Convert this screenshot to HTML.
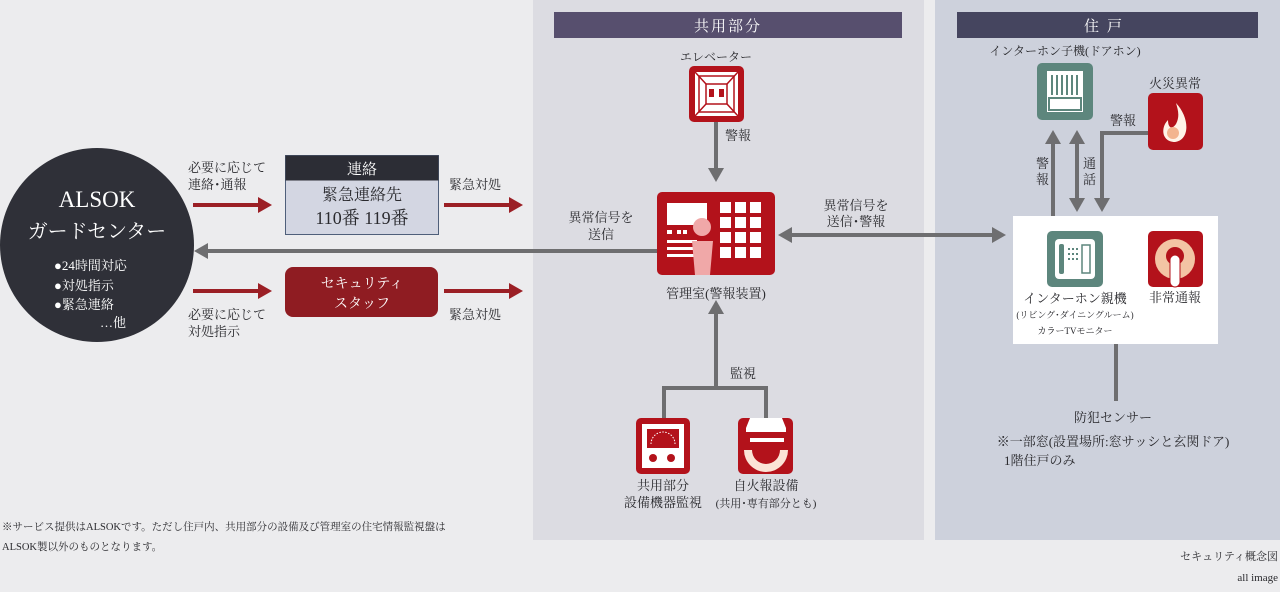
<!DOCTYPE html>
<html><head><meta charset="utf-8">
<style>
html,body{margin:0;padding:0;}
body{width:1280px;height:587px;overflow:hidden;background:#ececee;}
svg text{font-family:"Liberation Serif","Noto Serif CJK SC","Noto Sans CJK JP",serif;fill:#2a2a2e;}
</style></head>
<body>
<svg width="1280" height="587" viewBox="0 0 1280 587" xmlns="http://www.w3.org/2000/svg">
<rect width="1280" height="587" fill="#ececee"/>
<!-- panels -->
<rect x="533" y="0" width="391" height="540" fill="#dcdce2"/>
<rect x="935" y="0" width="345" height="540" fill="#cdd1dc"/>
<rect x="554" y="12" width="348" height="26" fill="#574f6e"/>
<text x="728" y="31" font-size="15" text-anchor="middle" style="fill:#fff" letter-spacing="2">共用部分</text>
<rect x="957" y="12" width="301" height="26" fill="#45455f"/>
<text x="1107" y="31" font-size="15" text-anchor="middle" style="fill:#fff" letter-spacing="8">住戸</text>

<!-- ALSOK circle -->
<circle cx="97" cy="245" r="97" fill="#2f3038"/>
<text x="97" y="207" font-size="23" text-anchor="middle" style="fill:#fff">ALSOK</text>
<text x="97" y="238" font-size="20" text-anchor="middle" style="fill:#fff">ガードセンター</text>
<g font-size="13">
<text x="54" y="270" style="fill:#fff">●24時間対応</text>
<text x="54" y="290" style="fill:#fff">●対処指示</text>
<text x="54" y="309" style="fill:#fff">●緊急連絡</text>
<text x="100" y="327" style="fill:#fff">…他</text>
</g>

<!-- red arrows -->
<g fill="#9b1f25">
<rect x="193" y="203" width="66" height="4"/><path d="M258,197 L272,205 L258,213z"/>
<rect x="444" y="203" width="66" height="4"/><path d="M509,197 L523,205 L509,213z"/>
<rect x="193" y="289" width="66" height="4"/><path d="M258,283 L272,291 L258,299z"/>
<rect x="444" y="289" width="66" height="4"/><path d="M509,283 L523,291 L509,299z"/>
</g>
<g font-size="13">
<text x="188" y="172">必要に応じて</text>
<text x="188" y="189">連絡･通報</text>
<text x="449" y="189">緊急対処</text>
<text x="188" y="319">必要に応じて</text>
<text x="188" y="336">対処指示</text>
<text x="449" y="319">緊急対処</text>
</g>

<!-- 連絡 box -->
<rect x="285.5" y="155.5" width="153" height="79" fill="#d3d6e2" stroke="#4f5f7a"/>
<rect x="285.5" y="155.5" width="153" height="25" fill="#2c2d35"/>
<text x="362" y="174" font-size="15" text-anchor="middle" style="fill:#fff">連絡</text>
<text x="362" y="200" font-size="16" text-anchor="middle">緊急連絡先</text>
<text x="362" y="224" font-size="18" text-anchor="middle">110番 119番</text>
<!-- security staff -->
<rect x="285" y="267" width="153" height="50" rx="8" fill="#8f1c22"/>
<text x="362" y="288" font-size="14" text-anchor="middle" style="fill:#fff">セキュリティ</text>
<text x="362" y="308" font-size="14" text-anchor="middle" style="fill:#fff">スタッフ</text>

<!-- gray long arrow left -->
<line x1="657" y1="251" x2="205" y2="251" stroke="#6e6e70" stroke-width="4"/>
<path d="M194,251 L208,243 L208,259z" fill="#6e6e70"/>
<text x="601" y="222" font-size="13" text-anchor="middle">異常信号を</text>
<text x="601" y="239" font-size="13" text-anchor="middle">送信</text>

<!-- elevator -->
<text x="716" y="61" font-size="12" text-anchor="middle">エレベーター</text>
<rect x="689" y="66" width="55" height="56" rx="5" fill="#b3121b"/>
<rect x="695" y="72" width="43" height="44" fill="#fff"/>
<rect x="699" y="76" width="35" height="36" fill="none" stroke="#b3121b" stroke-width="1.5"/>
<path d="M695,72 L706,84 M738,72 L727,84 M695,116 L706,104 M738,116 L727,104" stroke="#b3121b" stroke-width="1.5"/>
<rect x="706" y="84" width="21" height="20" fill="#fff" stroke="#b3121b" stroke-width="1.5"/>
<rect x="709" y="89" width="5" height="8" fill="#b3121b"/><rect x="719" y="89" width="5" height="8" fill="#b3121b"/>
<line x1="716" y1="122" x2="716" y2="170" stroke="#6e6e70" stroke-width="4"/>
<path d="M708,168 L716,182 L724,168z" fill="#6e6e70"/>
<text x="725" y="140" font-size="13">警報</text>

<!-- 管理室 -->
<rect x="657" y="192" width="118" height="83" rx="5" fill="#b3121b"/>
<rect x="667" y="203" width="40" height="22" fill="#fff"/>
<g fill="#fff">
<rect x="720" y="202" width="11" height="11"/><rect x="735" y="202" width="11" height="11"/><rect x="750" y="202" width="11" height="11"/>
<rect x="720" y="217" width="11" height="11"/><rect x="735" y="217" width="11" height="11"/><rect x="750" y="217" width="11" height="11"/>
<rect x="720" y="232" width="11" height="11"/><rect x="735" y="232" width="11" height="11"/><rect x="750" y="232" width="11" height="11"/>
<rect x="720" y="247" width="11" height="11"/><rect x="735" y="247" width="11" height="11"/><rect x="750" y="247" width="11" height="11"/>
<rect x="667" y="230" width="5" height="4"/><rect x="677" y="230" width="4" height="4"/><rect x="683" y="230" width="4" height="4"/>
<rect x="667" y="240" width="30" height="3"/><rect x="667" y="247" width="30" height="3"/><rect x="667" y="254" width="30" height="3"/>
</g>
<circle cx="702" cy="227" r="9" fill="#f0a8a8"/>
<path d="M692,241 L713,241 L710,275 L695,275z" fill="#f0a8a8"/>
<text x="716" y="298" font-size="13" text-anchor="middle">管理室(警報装置)</text>

<!-- double arrow kanri to housing -->
<line x1="790" y1="235" x2="994" y2="235" stroke="#6e6e70" stroke-width="4"/>
<path d="M778,235 L792,227 L792,243z" fill="#6e6e70"/>
<path d="M1006,235 L992,227 L992,243z" fill="#6e6e70"/>
<text x="856" y="210" font-size="13" text-anchor="middle">異常信号を</text>
<text x="856" y="226" font-size="13" text-anchor="middle">送信･警報</text>

<!-- monitor arrow -->
<path d="M664,418 V388 H766 V418 M716,388 V312" fill="none" stroke="#6e6e70" stroke-width="4"/>
<path d="M708,314 L716,300 L724,314z" fill="#6e6e70"/>
<text x="730" y="378" font-size="13">監視</text>

<!-- 設備機器 icon -->
<rect x="636" y="418" width="54" height="56" rx="5" fill="#b3121b"/>
<rect x="642" y="424" width="42" height="44" fill="#fff"/>
<rect x="647" y="429" width="32" height="19" fill="#b3121b"/>
<path d="M651,444 A12,12 0 0 1 675,444" fill="none" stroke="#fff" stroke-width="1" stroke-dasharray="1.5,1.5"/>
<circle cx="653" cy="458" r="4" fill="#b3121b"/><circle cx="671" cy="458" r="4" fill="#b3121b"/>
<text x="663" y="490" font-size="13" text-anchor="middle">共用部分</text>
<text x="663" y="507" font-size="13" text-anchor="middle">設備機器監視</text>
<!-- 自火報 icon -->
<rect x="738" y="418" width="55" height="56" rx="5" fill="#b3121b"/>
<path d="M750,418 L782,418 L786,428 L786,432 L746,432 L746,428z" fill="#fff"/>
<rect x="750" y="438" width="34" height="4" fill="#fff"/>
<path d="M744,450 L752,450 A14,14 0 0 0 780,450 L788,450 A22,22 0 0 1 744,450z" fill="#fbe3d6"/>
<text x="766" y="490" font-size="13" text-anchor="middle">自火報設備</text>
<text x="766" y="507" font-size="11" text-anchor="middle">(共用･専有部分とも)</text>

<!-- housing -->
<text x="1065" y="55" font-size="12" text-anchor="middle">インターホン子機(ドアホン)</text>
<rect x="1037" y="63" width="56" height="57" rx="5" fill="#5d867d"/>
<rect x="1047" y="71" width="36" height="41" fill="#fff"/>
<g fill="#5d867d"><rect x="1051" y="75" width="2" height="20"/><rect x="1056" y="75" width="2" height="20"/><rect x="1061" y="75" width="2" height="20"/><rect x="1066" y="75" width="2" height="20"/><rect x="1071" y="75" width="2" height="20"/><rect x="1076" y="75" width="2" height="20"/></g>
<rect x="1049" y="98" width="32" height="12" fill="none" stroke="#5d867d" stroke-width="2"/>

<text x="1175" y="88" font-size="13" text-anchor="middle">火災異常</text>
<rect x="1148" y="93" width="55" height="57" rx="5" fill="#b3121b"/>
<path d="M1176,103 C1190,118 1190,140 1175,142 C1162,142 1160,128 1168,120 C1168,128 1172,130 1176,124 C1180,116 1178,110 1176,103z" fill="#fff3e8"/>
<circle cx="1173" cy="133" r="6" fill="#f3b48f"/>

<path d="M1148,133 H1102 V200" fill="none" stroke="#6e6e70" stroke-width="4"/>
<path d="M1094,198 L1102,212 L1110,198z" fill="#6e6e70"/>
<text x="1110" y="125" font-size="13">警報</text>
<line x1="1053" y1="216" x2="1053" y2="142" stroke="#6e6e70" stroke-width="4"/>
<path d="M1045,144 L1053,130 L1061,144z" fill="#6e6e70"/>
<line x1="1077" y1="142" x2="1077" y2="200" stroke="#6e6e70" stroke-width="4"/>
<path d="M1069,144 L1077,130 L1085,144z" fill="#6e6e70"/>
<path d="M1069,198 L1077,212 L1085,198z" fill="#6e6e70"/>
<text x="1036" y="168" font-size="13">警</text><text x="1036" y="184" font-size="13">報</text>
<text x="1083" y="168" font-size="13">通</text><text x="1083" y="184" font-size="13">話</text>

<rect x="1013" y="216" width="205" height="128" fill="#fff"/>
<rect x="1047" y="231" width="56" height="56" rx="5" fill="#5d867d"/>
<rect x="1055" y="239" width="40" height="40" rx="4" fill="#fff"/>
<rect x="1059" y="244" width="5" height="30" rx="2" fill="#5d867d"/>
<g fill="#5d867d"><rect x="1068" y="248" width="2" height="2"/><rect x="1072" y="248" width="2" height="2"/><rect x="1076" y="248" width="2" height="2"/><rect x="1068" y="253" width="2" height="2"/><rect x="1072" y="253" width="2" height="2"/><rect x="1076" y="253" width="2" height="2"/><rect x="1068" y="258" width="2" height="2"/><rect x="1072" y="258" width="2" height="2"/><rect x="1076" y="258" width="2" height="2"/></g>
<rect x="1082" y="245" width="8" height="28" fill="none" stroke="#5d867d" stroke-width="1.5"/>
<rect x="1148" y="231" width="55" height="56" rx="5" fill="#b3121b"/>
<circle cx="1175" cy="259" r="20" fill="#f3c4a4"/>
<circle cx="1175" cy="256" r="9" fill="#b3121b"/>
<rect x="1170" y="255" width="10" height="32" rx="5" fill="#fff" stroke="#b3121b"/>
<text x="1075" y="303" font-size="13" text-anchor="middle">インターホン親機</text>
<text x="1075" y="318" font-size="9" text-anchor="middle">(リビング･ダイニングルーム)</text>
<text x="1075" y="334" font-size="9" text-anchor="middle">カラーTVモニター</text>
<text x="1175" y="302" font-size="13" text-anchor="middle">非常通報</text>

<line x1="1116" y1="344" x2="1116" y2="401" stroke="#6e6e70" stroke-width="4"/>
<text x="1113" y="422" font-size="13" text-anchor="middle">防犯センサー</text>
<text x="1113" y="446" font-size="13" text-anchor="middle">※一部窓(設置場所:窓サッシと玄関ドア)</text>
<text x="1004" y="465" font-size="13">1階住戸のみ</text>

<text x="2" y="530" font-size="10.5">※サービス提供はALSOKです。ただし住戸内、共用部分の設備及び管理室の住宅情報監視盤は</text>
<text x="2" y="550" font-size="10.5">ALSOK製以外のものとなります。</text>
<text x="1278" y="560" font-size="11" text-anchor="end">セキュリティ概念図</text>
<text x="1278" y="581" font-size="11" text-anchor="end">all image</text>
</svg>
</body></html>
